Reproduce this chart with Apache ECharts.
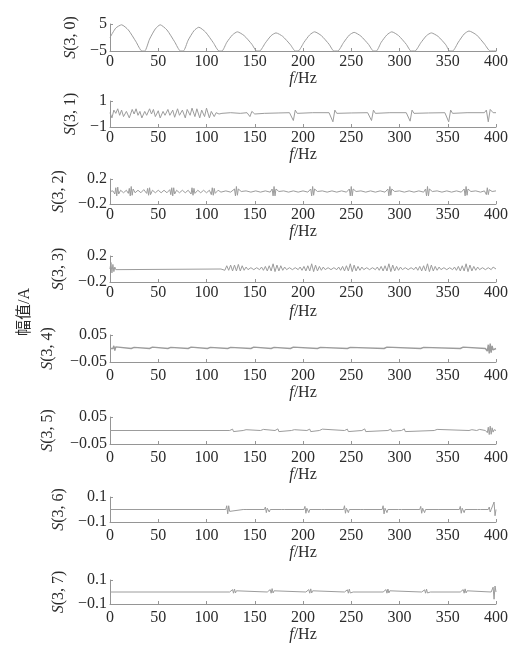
<!DOCTYPE html>
<html>
<head>
<meta charset="utf-8">
<script src="https://cdn.jsdelivr.net/npm/echarts@6/dist/echarts.min.js"></script>
<style>
  html, body { margin: 0; padding: 0; background: #fff; }
  #chart { width: 517px; height: 651px; }
</style>
</head>
<body>
<div id="chart"></div>
<script>
// frequency ticks shared by every panel
const fMin = 0, fMax = 400, fStep = 50;

// panel names and y limits
const names = ['S(3, 0)', 'S(3, 1)', 'S(3, 2)', 'S(3, 3)', 'S(3, 4)', 'S(3, 5)', 'S(3, 6)', 'S(3, 7)'];
const yMins = [-5, -1, -0.2, -0.2, -0.05, -0.05, -0.1, -0.1];
const yMaxs = [5, 1, 0.2, 0.2, 0.05, 0.05, 0.1, 0.1];

// [f, amplitude]
const s30 = [[0,0],[6,3.5],[12,4.7],[19,2.8],[27,-1.6],[33,-5],[36,-5],[41,-0.6],[47,3.2],[52,4.7],[59,2.8],[67,-1.6],[73,-5],[76,-5],[81,-1.0],[87,2.5],[92,3.8],[99,2.0],[107,-1.9],[113,-5],[116,-5],[121,-1.8],[127,1.0],[132,2.1],[139,0.7],[147,-2.5],[152,-5],[155,-5],[161,-2.0],[167,0.7],[172,1.7],[179,0.4],[187,-2.7],[192,-5],[195,-5],[201,-1.8],[207,1.0],[212,2.1],[219,0.7],[227,-2.5],[232,-5],[236,-5],[242,-1.9],[248,0.9],[253,1.9],[260,0.5],[268,-2.6],[273,-5],[276,-5],[281,-1.8],[287,1.0],[292,2.1],[299,0.7],[307,-2.5],[312,-5],[316,-5],[322,-2.0],[328,0.7],[333,1.7],[340,0.4],[348,-2.7],[352,-5],[355,-5],[361,-1.7],[367,1.3],[372,2.4],[380,0.9],[388,-2.4],[394,-5],[400,-5]];

const s31 = [[0,0.1],[2,-0.3],[4,0.3],[6,0.05],[8,0.4],[10,-0.1],[12,0.3],[14,-0.2],[17,0.2],[20,-0.3],[23,0.35],[25,0.0],[27,0.4],[29,-0.1],[31,0.2],[33,-0.3],[36,0.2],[38,-0.1],[41,0.4],[43,0.0],[45,0.35],[47,-0.2],[50,0.25],[52,-0.3],[55,0.2],[57,-0.1],[60,0.35],[62,-0.1],[65,0.3],[67,-0.25],[70,0.4],[72,-0.1],[75,0.3],[78,-0.3],[80,0.35],[83,-0.1],[85,0.45],[88,-0.2],[90,0.4],[93,-0.3],[95,0.3],[98,-0.2],[100,0.45],[103,-0.3],[105,0.2],[108,-0.2],[110,0.1],[113,0.0],[116,0.05],[125,0.1],[135,0.05],[142,0.1],[145,-0.2],[147,0.2],[150,0.0],[160,0.05],[175,0.08],[186,0.1],[188,0.2],[190,-0.5],[192,0.3],[194,0.05],[210,0.1],[227,0.1],[229,0.25],[231,-0.6],[233,0.3],[235,0.05],[250,0.08],[267,0.1],[269,0.25],[271,-0.5],[273,0.3],[275,0.05],[290,0.1],[307,0.1],[309,0.2],[311,-0.55],[313,0.3],[315,0.05],[330,0.08],[347,0.1],[349,0.2],[351,-0.6],[353,0.3],[355,0.05],[370,0.1],[388,0.1],[390,0.3],[392,-0.6],[394,0.35],[397,0.1],[400,0.1]];

const s32 = [[0,0],[3,0.01],[5,-0.04],[6,0.06],[7,-0.07],[8,0.07],[9,-0.04],[11,0.02],[14,-0.02],[17,0.02],[19,-0.03],[20,0.05],[21,-0.07],[22,0.08],[23,-0.06],[24,0.04],[26,-0.02],[29,0.02],[32,-0.02],[35,0.03],[38,-0.03],[39,0.05],[40,-0.06],[41,0.06],[42,-0.05],[44,0.02],[47,-0.02],[50,0.02],[53,-0.02],[56,0.02],[59,-0.02],[62,0.03],[63,-0.05],[64,0.06],[65,-0.07],[66,0.06],[67,-0.04],[69,0.02],[72,-0.02],[75,0.02],[78,-0.02],[81,0.02],[84,-0.04],[85,0.06],[86,-0.06],[87,0.05],[88,-0.03],[91,0.02],[94,-0.02],[97,0.02],[100,-0.02],[103,0.02],[105,-0.05],[106,0.06],[107,-0.06],[108,0.05],[109,-0.03],[112,0.02],[115,-0.01],[120,0.01],[125,-0.01],[129,0.04],[130,-0.07],[131,0.08],[132,-0.06],[133,0.04],[136,0],[141,0.01],[146,-0.01],[151,0.01],[156,-0.01],[161,0.01],[166,-0.01],[168,0.04],[169,-0.07],[170,0.08],[171,-0.07],[172,0.04],[175,0],[180,0.01],[185,-0.01],[190,0.01],[195,-0.01],[200,0.01],[205,-0.01],[208,0.04],[209,-0.07],[210,0.08],[211,-0.06],[212,0.04],[215,0],[220,0.01],[225,-0.01],[230,0.01],[235,-0.01],[240,0.01],[245,-0.01],[248,0.04],[249,-0.07],[250,0.08],[251,-0.07],[252,0.04],[255,0],[260,0.01],[265,-0.01],[270,0.01],[275,-0.01],[280,0.01],[285,-0.01],[288,0.04],[289,-0.07],[290,0.08],[291,-0.06],[292,0.04],[295,0],[300,0.01],[305,-0.01],[310,0.01],[315,-0.01],[320,0.01],[325,-0.01],[327,0.04],[328,-0.07],[329,0.08],[330,-0.07],[331,0.04],[334,0],[339,0.01],[344,-0.01],[349,0.01],[354,-0.01],[359,0.01],[364,-0.01],[367,0.04],[368,-0.07],[369,0.08],[370,-0.06],[371,0.04],[374,0],[379,0.01],[384,-0.01],[388,0.01],[390,-0.05],[391,0.06],[392,-0.05],[393,0.03],[396,0],[400,0.01]];

const s33 = [[0,0],[1,0.1],[2,-0.06],[3,0.07],[4,-0.04],[5,0.03],[6,-0.01],[8,0],[115,0],[117,0.03],[119,-0.02],[121,0.05],[123,-0.02],[125,0.06],[127,-0.03],[129,0.06],[131,-0.03],[133,0.07],[135,-0.03],[137,0.05],[139,-0.02],[141,0.03],[143,-0.01],[146,0.02],[149,-0.01],[152,0.02],[155,-0.01],[157,0.03],[159,-0.02],[161,0.04],[163,-0.03],[165,0.05],[167,-0.03],[169,0.08],[171,-0.04],[173,0.06],[175,-0.03],[177,0.05],[179,-0.02],[181,0.03],[183,-0.01],[186,0.02],[189,-0.01],[192,0.02],[195,-0.01],[197,0.03],[199,-0.02],[201,0.04],[203,-0.03],[205,0.05],[207,-0.03],[209,0.08],[211,-0.04],[213,0.06],[215,-0.03],[217,0.04],[219,-0.02],[221,0.03],[223,-0.01],[226,0.02],[229,-0.01],[232,0.02],[235,-0.01],[237,0.03],[239,-0.02],[241,0.04],[243,-0.03],[245,0.05],[247,-0.03],[249,0.08],[251,-0.04],[253,0.06],[255,-0.03],[257,0.04],[259,-0.02],[261,0.03],[263,-0.01],[266,0.02],[269,-0.01],[272,0.02],[275,-0.01],[277,0.03],[279,-0.02],[281,0.04],[283,-0.03],[285,0.05],[287,-0.03],[289,0.08],[291,-0.04],[293,0.06],[295,-0.03],[297,0.04],[299,-0.02],[301,0.03],[303,-0.01],[306,0.02],[309,-0.01],[312,0.02],[315,-0.01],[317,0.03],[319,-0.02],[321,0.04],[323,-0.03],[325,0.05],[327,-0.03],[329,0.08],[331,-0.04],[333,0.06],[335,-0.03],[337,0.04],[339,-0.02],[341,0.03],[343,-0.01],[346,0.02],[349,-0.01],[352,0.02],[355,-0.01],[357,0.03],[359,-0.02],[361,0.04],[363,-0.03],[365,0.05],[367,-0.03],[369,0.08],[371,-0.04],[373,0.06],[375,-0.03],[377,0.04],[379,-0.02],[381,0.03],[383,-0.01],[386,0.02],[389,-0.01],[392,0.02],[395,-0.01],[397,0.03],[400,0]];

const s34 = [[0,0],[3,0],[4,0.01],[5,-0.008],[6,0.006],[7,0],[22,0],[23,0.005],[24,-0.005],[25,0.004],[26,0],[41,0],[42,0.005],[43,-0.006],[44,0.005],[45,0],[60,0],[61,0.005],[62,-0.005],[63,0.004],[64,0],[81,0],[82,0.005],[83,-0.006],[84,0.005],[85,0],[101,0],[102,0.005],[103,-0.005],[104,0.004],[105,0],[122,0],[123,0.004],[124,-0.005],[125,0.004],[126,0],[146,0],[147,0.005],[148,-0.006],[149,0.005],[150,0],[167,0],[168,0.005],[169,-0.005],[170,0.004],[171,0],[187,0],[188,0.006],[189,-0.006],[190,0.005],[191,0],[215,0],[216,0.004],[217,-0.005],[218,0.004],[219,0],[246,0],[247,0.005],[248,-0.006],[249,0.004],[250,0],[284,0],[285,0.005],[286,-0.005],[287,0.005],[288,0],[322,0],[323,0.005],[324,-0.006],[325,0.004],[326,0],[363,0],[364,0.006],[365,-0.006],[366,0.005],[367,0],[389,0],[390,0.006],[391,-0.01],[392,0.014],[393,-0.018],[394,0.018],[395,-0.015],[396,0.01],[397,-0.005],[398,0],[400,0]];

const s35 = [[0,0],[124,0],[125,0.004],[126,-0.005],[127,0.005],[128,-0.004],[129,0],[138,0],[139,0.003],[140,-0.004],[141,0.003],[142,0],[156,0],[157,0.004],[158,-0.005],[159,0.004],[160,0],[171,0],[172,0.005],[173,-0.006],[174,0.006],[175,-0.004],[176,0],[188,0],[189,0.003],[190,-0.004],[191,0.003],[192,0],[204,0],[205,0.005],[206,-0.006],[207,0.005],[208,-0.004],[209,0],[217,0],[218,0.005],[219,-0.006],[220,0.005],[221,0],[243,0],[244,0.004],[245,-0.005],[246,0.005],[247,-0.004],[248,0],[261,0],[262,0.005],[263,-0.006],[264,0.006],[265,-0.004],[266,0],[288,0],[289,0.004],[290,-0.005],[291,0.005],[292,-0.003],[293,0],[302,0],[303,0.005],[304,-0.006],[305,0.006],[306,-0.004],[307,0],[336,0],[337,0.003],[338,-0.005],[339,0.004],[340,0],[372,0],[373,0.003],[374,-0.004],[375,0.003],[376,0],[380,0],[381,0.004],[382,-0.005],[383,0.004],[384,0],[389,0],[390,0.005],[391,-0.008],[392,0.012],[393,-0.015],[394,0.016],[395,-0.014],[396,0.01],[397,-0.006],[398,0.003],[400,0]];

const s36 = [[0,0],[120,0],[121,0.03],[122,-0.035],[123,0.03],[124,-0.015],[125,0],[138,0],[139,0.012],[140,-0.012],[141,0],[160,0],[161,0.02],[162,-0.025],[163,0.01],[164,0.022],[165,-0.02],[166,0],[178,0],[179,0.012],[180,-0.012],[181,0],[201,0],[202,0.025],[203,-0.03],[204,0.01],[205,0.025],[206,-0.025],[207,0],[219,0],[220,0.012],[221,-0.012],[222,0],[242,0],[243,0.03],[244,-0.03],[245,0.01],[246,0.025],[247,-0.025],[248,0],[260,0],[261,0.012],[262,-0.014],[263,0],[282,0],[283,0.03],[284,-0.035],[285,0.01],[286,0.025],[287,-0.025],[288,0],[299,0],[300,0.012],[301,-0.012],[302,0],[321,0],[322,0.025],[323,-0.03],[324,0.01],[325,0.025],[326,-0.025],[327,0],[340,0],[341,0.012],[342,-0.012],[343,0],[362,0],[363,0.025],[364,-0.03],[365,0.01],[366,0.025],[367,-0.025],[368,0],[381,0],[382,0.012],[383,-0.012],[384,0],[392,0],[393,0.02],[394,-0.02],[395,0],[397,0],[398,0.06],[399,-0.05],[400,0]];

const s37 = [[0,0],[124,0],[126,0.008],[127,0.02],[128,-0.01],[129,0.025],[130,-0.008],[131,0.01],[133,0],[163,0],[165,0.008],[166,0.02],[167,-0.01],[168,0.028],[169,-0.008],[170,0.01],[172,0],[203,0],[205,0.008],[206,0.02],[207,-0.01],[208,0.026],[209,-0.008],[210,0.01],[212,0],[243,0],[245,0.008],[246,0.018],[247,-0.01],[248,0.024],[249,-0.008],[250,0.008],[252,0],[283,0],[285,0.008],[286,0.02],[287,-0.01],[288,0.025],[289,-0.008],[290,0.01],[292,0],[323,0],[325,0.008],[326,0.018],[327,-0.01],[328,0.024],[329,-0.008],[330,0.008],[332,0],[363,0],[365,0.008],[366,0.02],[367,-0.01],[368,0.026],[369,-0.008],[370,0.01],[372,0],[395,0],[397,0.04],[398,-0.06],[399,0.05],[400,0]];

const seriesData = [s30, s31, s32, s33, s34, s35, s36, s37];

// layout (pixels)
const tops = [24, 101, 179, 256, 335, 417, 497, 580];
const bottoms = [51, 127, 204, 282, 362, 444, 522, 604];
const nameGaps = [24, 24, 42, 42, 54, 54, 43, 43];
const labelMargins = [3, 3, 3, 3, 6, 6, 6, 6];
const fNameGaps = [20, 20, 20, 22, 23, 23, 23, 23];

const serif = '"Liberation Serif", "DejaVu Serif", serif';
const textColor = '#2b2b2b';
const axisColor = '#959595';
const lineColor = '#9c9c9c';

const fmt = v => String(+v.toFixed(4)).replace('-', '\u2212');

const grid = [], xAxis = [], yAxis = [], series = [];
for (let i = 0; i < 8; i++) {
  grid.push({ left: 110, right: 21, top: tops[i], height: bottoms[i] - tops[i] });
  xAxis.push({
    type: 'value', gridIndex: i, min: fMin, max: fMax, interval: fStep,
    name: '{i|f}/Hz', nameLocation: 'middle', nameGap: fNameGaps[i],
    nameTextStyle: { fontFamily: serif, fontSize: 16, color: textColor,
      rich: { i: { fontStyle: 'italic', fontFamily: serif, fontSize: 16, color: textColor } } },
    axisLine: { onZero: false, lineStyle: { color: axisColor, width: 1 } },
    axisTick: { inside: true, length: 3, lineStyle: { color: axisColor } },
    axisLabel: { margin: labelMargins[i], fontFamily: serif, fontSize: 16, color: textColor },
    splitLine: { show: false }
  });
  yAxis.push({
    type: 'value', gridIndex: i, min: yMins[i], max: yMaxs[i], interval: yMaxs[i] - yMins[i],
    name: '{i|S}' + names[i].slice(1), nameLocation: 'middle', nameGap: nameGaps[i],
    nameTextStyle: { fontFamily: serif, fontSize: 16, color: textColor,
      rich: { i: { fontStyle: 'italic', fontFamily: serif, fontSize: 16, color: textColor } } },
    axisLine: { show: true, onZero: false, lineStyle: { color: axisColor, width: 1 } },
    axisTick: { inside: true, length: 3, lineStyle: { color: axisColor } },
    axisLabel: { margin: 3, fontFamily: serif, fontSize: 16, color: textColor, formatter: fmt },
    splitLine: { show: false }
  });
  series.push({
    type: 'line', xAxisIndex: i, yAxisIndex: i, data: seriesData[i],
    symbol: 'none', smooth: i === 0 ? 0.2 : false, clip: true,
    lineStyle: { color: lineColor, width: i === 4 ? 1.4 : 1 }
  });
}

const chart = echarts.init(document.getElementById('chart'));
chart.setOption({
  backgroundColor: '#fff',
  animation: false,
  grid, xAxis, yAxis, series,
  graphic: [{
    type: 'text', x: 25, y: 312, rotation: Math.PI / 2,
    style: { text: '幅值/A', font: '16px "Liberation Serif", "Noto Sans CJK SC"', fill: textColor,
      align: 'center', verticalAlign: 'middle' }
  }]
});
</script>
</body>
</html>
